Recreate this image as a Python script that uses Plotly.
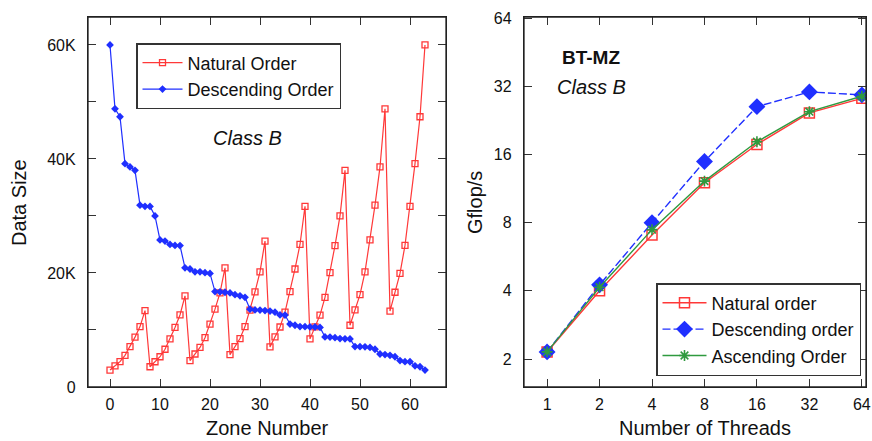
import plotly.graph_objects as go

# ---------------- Left chart data ----------------
zones = list(range(64))
natural_order = [2.97, 3.71, 4.45, 5.55, 7.08, 8.75, 10.59, 13.4,
                 3.55, 4.43, 5.31, 6.62, 8.45, 10.45, 12.64, 16.0,
                 4.64, 5.79, 6.94, 8.65, 11.04, 13.65, 16.51, 20.9,
                 5.68, 7.09, 8.50, 10.6, 13.5, 16.7, 20.2, 25.6,
                 7.04, 8.78, 10.52, 13.12, 16.74, 20.7, 25.0, 31.7,
                 8.44, 10.53, 12.62, 15.73, 20.06, 24.8, 30.0, 38.0,
                 10.83, 13.52, 16.2, 20.2, 25.8, 31.9, 38.6, 48.8,
                 13.32, 16.62, 19.92, 24.84, 31.68, 39.18, 47.4, 60.0]
descending_order = [60.0, 48.8, 47.4, 39.18, 38.6, 38.0, 31.9, 31.7, 31.68, 30.0,
                    25.8, 25.6, 25.0, 24.84, 24.8, 20.9, 20.7, 20.2, 20.2, 20.06,
                    19.92, 16.74, 16.7, 16.62, 16.51, 16.2, 16.0, 15.73, 13.65, 13.52,
                    13.5, 13.4, 13.32, 13.12, 12.64, 12.62, 11.04, 10.83, 10.6, 10.59,
                    10.53, 10.52, 10.45, 8.78, 8.75, 8.65, 8.50, 8.45, 8.44, 7.09,
                    7.08, 7.04, 6.94, 6.62, 5.79, 5.68, 5.55, 5.31, 4.64, 4.45,
                    4.43, 3.71, 3.55, 2.97]
left_y_tickvals = [0, 10000, 20000, 30000, 40000, 50000, 60000]
left_y_ticktext = ["0", "", "20K", "", "40K", "", "60K"]
left_x_tickvals = [0, 10, 20, 30, 40, 50, 60]

# ---------------- Right chart data ----------------
threads = [1, 2, 4, 8, 16, 32, 64]
gf_natural = [2.15, 4.0, 7.05, 12.0, 17.7, 24.4, 28.3]
gf_descending = [2.15, 4.25, 8.0, 14.9, 26.0, 30.2, 29.3]
gf_ascending = [2.15, 4.15, 7.45, 12.2, 18.2, 24.7, 28.9]
right_y_tickvals = [2, 4, 8, 16, 32, 64]

FONT = "Liberation Sans, Arial, Helvetica, sans-serif"
W, H = 872, 441

def px_x(p):
    return p / W

def px_y(p):
    return 1 - p / H

RED = "#ff3838"
BLUE = "#1f2fff"
GREEN = "#2f9a3f"

fig = go.Figure()

fig.add_trace(go.Scatter(
    x=zones, y=[v * 1000 for v in natural_order], name="Natural Order",
    mode="lines+markers", xaxis="x", yaxis="y", legend="legend",
    line=dict(color=RED, width=1.2),
    marker=dict(symbol="square-open", size=6, color=RED, line=dict(width=1.3, color=RED)),
))
fig.add_trace(go.Scatter(
    x=zones, y=[v * 1000 for v in descending_order], name="Descending Order",
    mode="lines+markers", xaxis="x", yaxis="y", legend="legend",
    line=dict(color=BLUE, width=1.2),
    marker=dict(symbol="diamond", size=6, color=BLUE),
))

fig.add_trace(go.Scatter(
    x=threads, y=gf_natural, name="Natural order",
    mode="lines+markers", xaxis="x2", yaxis="y2", legend="legend2",
    line=dict(color=RED, width=1.4),
    marker=dict(symbol="square-open", size=10, color=RED, line=dict(width=1.5, color=RED)),
))
fig.add_trace(go.Scatter(
    x=threads, y=gf_descending, name="Descending order",
    mode="lines+markers", xaxis="x2", yaxis="y2", legend="legend2",
    line=dict(color=BLUE, width=1.4, dash="8px,3px"),
    marker=dict(symbol="diamond", size=13, color=BLUE),
))
fig.add_trace(go.Scatter(
    x=threads, y=gf_ascending, name="Ascending Order",
    mode="lines+markers", xaxis="x2", yaxis="y2", legend="legend2",
    line=dict(color=GREEN, width=1.4),
    marker=dict(symbol="asterisk-open", size=9, color=GREEN, line=dict(width=1.6, color=GREEN)),
))

axis_common = dict(
    showline=True, linecolor="#222", linewidth=1.3, mirror="ticks",
    ticks="inside", ticklen=8, tickwidth=1.2, tickcolor="#333",
    showgrid=False, zeroline=False, automargin=False,
    tickfont=dict(family=FONT, size=16, color="#111"),
)

fig.update_layout(
    width=W, height=H,
    margin=dict(l=0, r=0, t=0, b=0, pad=0, autoexpand=False),
    paper_bgcolor="white", plot_bgcolor="white",
    font=dict(family=FONT, color="#111"),
    xaxis=dict(domain=[px_x(88), px_x(446)], range=[-4.4, 67.2],
               tickvals=left_x_tickvals, anchor="y", ticklabelstandoff=3, **axis_common),
    yaxis=dict(domain=[px_y(387), px_y(17)], range=[0, 64900],
               tickvals=left_y_tickvals, ticktext=left_y_ticktext, anchor="x",
               ticklabelstandoff=8, **axis_common),
    xaxis2=dict(domain=[px_x(524), px_x(866)], type="log", range=[-0.1325, 1.830],
                tickvals=threads, ticktext=[str(t) for t in threads], anchor="y2",
                ticklabelstandoff=3, **axis_common),
    yaxis2=dict(domain=[px_y(387), px_y(17)], type="log", range=[0.1776, 1.8107],
                tickvals=right_y_tickvals, ticktext=[str(t) for t in right_y_tickvals],
                anchor="x2", ticklabelstandoff=8, **axis_common),
    legend=dict(x=px_x(136), y=px_y(43), xanchor="left", yanchor="top",
                bordercolor="#333", borderwidth=1.5, bgcolor="white",
                font=dict(family=FONT, size=18, color="#111"),
                tracegroupgap=0, itemwidth=40),
    legend2=dict(x=px_x(656), y=px_y(283), xanchor="left", yanchor="top",
                 bordercolor="#333", borderwidth=1.5, bgcolor="white",
                 font=dict(family=FONT, size=18, color="#111"),
                 tracegroupgap=0, itemwidth=44),
    showlegend=True,
)

# plot frames
shapes = []
for xr, yr in (("x domain", "y domain"), ("x2 domain", "y2 domain")):
    shapes.append(dict(type="rect", xref=xr, yref=yr, x0=0, x1=1, y0=0, y1=1,
                       line=dict(color="#222", width=1.3), fillcolor="rgba(0,0,0,0)",
                       layer="above"))
fig.update_layout(shapes=shapes)

annotations = [
    dict(text="Data Size", x=px_x(19), y=px_y(203), textangle=-90,
         font=dict(size=20)),
    dict(text="Zone Number", x=px_x(267), y=0, yanchor="bottom", font=dict(size=20)),
    dict(text="<i>Class B</i>", x=px_x(247), y=px_y(138), font=dict(size=20)),
    dict(text="Gflop/s", x=px_x(475), y=px_y(203), textangle=-90, font=dict(size=20)),
    dict(text="Number of Threads", x=px_x(705), y=0, yanchor="bottom", font=dict(size=20)),
    dict(text="<b>BT-MZ</b>", x=px_x(591), y=px_y(58), font=dict(size=19)),
    dict(text="<i>Class B</i>", x=px_x(591), y=px_y(87), font=dict(size=20)),
]
for a in annotations:
    a.setdefault("yanchor", "middle")
    a.update(xref="paper", yref="paper", showarrow=False, xanchor="center")
    a["font"].update(family=FONT, color="#111")
fig.update_layout(annotations=annotations)

fig.write_html(
    "out.html",
    config={"displayModeBar": False},
    post_script="document.body.style.margin='0';document.body.style.padding='0';",
)
